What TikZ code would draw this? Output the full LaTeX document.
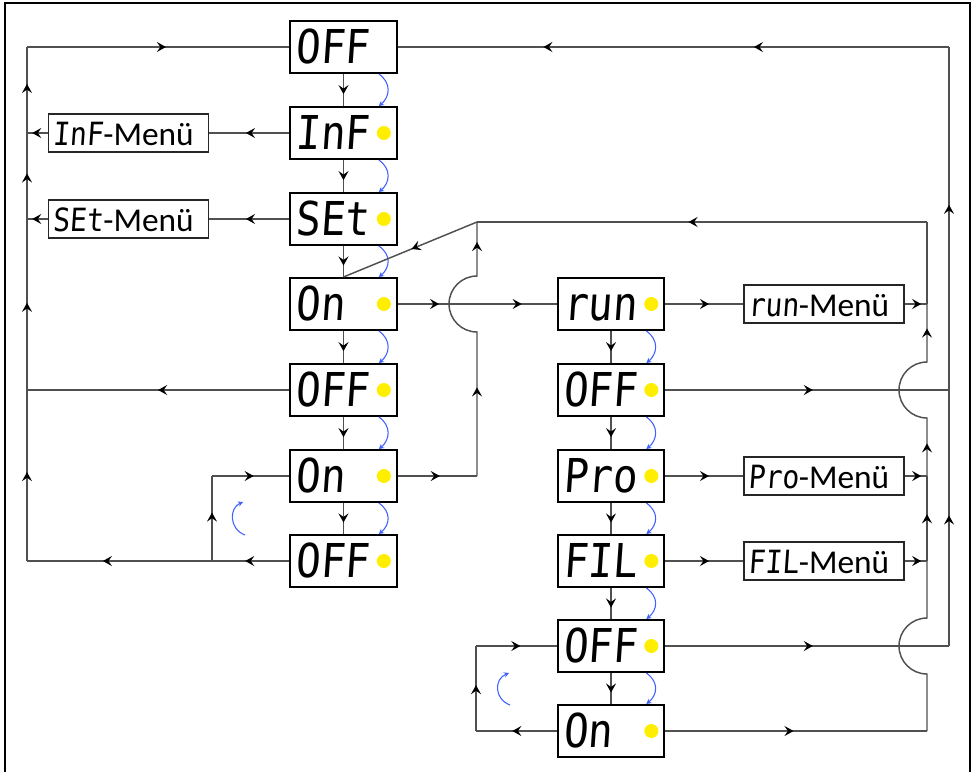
\documentclass[tikz,border=0pt]{standalone}
\usepackage{fontspec}
\setmainfont{Carlito}
\newfontfamily\segfont{DejaVu Sans Mono}[FakeSlant=0.07,FakeStretch=0.88]
\usetikzlibrary{arrows.meta,decorations.markings}

\definecolor{linegray}{RGB}{80,80,80}
\definecolor{pressblue}{RGB}{64,96,255}
\definecolor{ledyellow}{RGB}{255,238,0}

\newcommand{\menuseg}[1]{{\segfont\fontsize{24}{28}\selectfont #1}}

\tikzset{
  display/.style={draw=black, line width=1.5pt, minimum height=39pt, inner xsep=4pt, inner ysep=0pt,
    text width=72pt, align=left, text height=25pt, text depth=0pt, font=\segfont\fontsize{35}{40}\selectfont},
  menu/.style={draw=black!85, line width=1pt, minimum height=28.5pt, inner xsep=3pt, inner ysep=0pt,
    text width=114pt, align=left, text height=19pt, text depth=0pt, font=\fontsize{25}{28}\selectfont},
  led/.style={circle, fill=ledyellow, inner sep=0pt, minimum size=10.5pt},
  link/.style={draw=linegray, line width=1.1pt},
  tip at/.style={postaction={decorate, decoration={markings,
    mark=at position #1 with {\arrow[black]{Stealth[length=6.8pt,width=7.5pt,inset=2.6pt]}}}}},
  press/.style={draw=pressblue, line width=0.8pt, -{Stealth[length=3.8pt,width=4pt]}},
}

\begin{document}
\begin{tikzpicture}[x=0.75pt,y=0.75pt,yscale=-1]
\useasboundingbox (0,0) rectangle (977,772);

%Frame
\draw [line width=1.2pt] (5,772) -- (5,3) -- (970,3) -- (970,772) ;

% Text Node: left column
\node[display] (off1) at (343.5,47) {OFF};
\node[display] (inf) at (343.5,133) {InF};
\node[display] (set) at (343.5,219) {SEt};
\node[display] (on1) at (343.5,304) {On};
\node[display] (off2) at (343.5,390) {OFF};
\node[display] (on2) at (343.5,476) {On};
\node[display] (off3) at (343.5,561) {OFF};
% Text Node: right column
\node[display] (run) at (611,304) {run};
\node[display] (off4) at (611,390) {OFF};
\node[display] (pro) at (611,476) {Pro};
\node[display] (fil) at (611,561) {FIL};
\node[display] (off5) at (611,646) {OFF};
\node[display] (on3) at (611,731) {On};
% Text Node: menus
\node[menu] (infm) at (128.5,133) {\menuseg{InF}-Menü};
\node[menu] (setm) at (128.5,219) {\menuseg{SEt}-Menü};
\node[menu] (runm) at (824,304) {\menuseg{run}-Menü};
\node[menu] (prom) at (824,476) {\menuseg{Pro}-Menü};
\node[menu] (film) at (824,561) {\menuseg{FIL}-Menü};

%Shape: Circle (leds)
\foreach \b in {inf,set,on1,off2,on2,off3,run,off4,pro,fil,off5,on3}
  \node[led] (\b-led) at ([xshift=-10.5pt]\b.east) {};

%Corners
\coordinate (lft-top) at (27,47);
\coordinate (lft-inf) at (27,133);
\coordinate (lft-set) at (27,219);
\coordinate (lft-off2) at (27,390);
\coordinate (lft-off3) at (27,561);
\coordinate (lp-bot) at (212,561);
\coordinate (lp-top) at (212,476);
\coordinate (mid-on2) at (477,476);
\coordinate (jmp-mid) at (477,332);
\coordinate (mid-top) at (477,222);
\coordinate (inr-top) at (927,222);
\coordinate (inr-run) at (927,304);
\coordinate (jmp-hi) at (927,418);
\coordinate (inr-pro) at (927,476);
\coordinate (inr-fil) at (927,561);
\coordinate (jmp-lo) at (927,674);
\coordinate (inr-on3) at (927,731);
\coordinate (rgt-top) at (949,47);
\coordinate (rgt-off4) at (949,390);
\coordinate (rgt-off5) at (949,646);
\coordinate (rl-bot) at (476,731);
\coordinate (rl-top) at (476,646);

%Straight Lines: steps down the columns
\foreach \a/\b in {off1/inf,inf/set,set/on1,on1/off2,off2/on2,on2/off3,run/off4,off4/pro,pro/fil,fil/off5,off5/on3}{
  \draw [link, tip at=0.63] (\a.south) -- (\b.north) ;
  \draw [press] ([xshift=-14.25pt]\a.south east) .. controls +(13,9) and +(11,-9) .. ([xshift=-14.25pt]\b.north east) ;
}

%Straight Lines: left side
\draw [link, tip at=0.54] (inf.west) -- (infm.east) ;
\draw [link, tip at=0.75] (infm.west) -- (lft-inf) ;
\draw [link, tip at=0.54] (set.west) -- (setm.east) ;
\draw [link, tip at=0.75] (setm.west) -- (lft-set) ;
\draw [link, tip at=0.5] (off2.west) -- (lft-off2) ;
\draw [link, tip at=0.57] (off3.west) -- (lp-bot) ;
\draw [link, tip at=0.59] (lp-bot) -- (lft-off3) ;
\draw [link, tip at=0.57] (lp-bot) -- (lp-top) ;
\draw [link, tip at=0.54] (lp-top) -- (on2.west) ;
\draw [link, tip at=0.52] (lft-off3) -- (lft-off2) ;
\draw [link, tip at=0.51] (lft-off2) -- (lft-set) ;
\draw [link, tip at=0.53] (lft-set) -- (lft-inf) ;
\draw [link, tip at=0.57] (lft-inf) -- (lft-top) ;
\draw [link, tip at=0.53] (lft-top) -- (off1.west) ;

%Straight Lines: middle
\draw [link, tip at=0.26, tip at=0.78] (on1.east) -- (run.west) ;
\draw [link, tip at=0.53] (on2.east) -- (mid-on2) ;
\draw [link, tip at=0.31, tip at=0.93] (mid-on2) -- (jmp-mid) arc[start angle=90, end angle=270, radius=28] -- (mid-top) ;
\draw [link, tip at=0.53] (inr-top) -- (mid-top) ;
\draw [link, tip at=0.49] (mid-top) -- (on1.north) ;

%Straight Lines: right side
\draw [link, tip at=0.56] (run.east) -- (runm.west) ;
\draw [link, tip at=0.74] (runm.east) -- (inr-run) ;
\draw [link, tip at=0.56] (pro.east) -- (prom.west) ;
\draw [link, tip at=0.74] (prom.east) -- (inr-pro) ;
\draw [link, tip at=0.56] (fil.east) -- (film.west) ;
\draw [link, tip at=0.74] (film.east) -- (inr-fil) ;
\draw [link, tip at=0.52] (off4.east) -- (rgt-off4) ;
\draw [link, tip at=0.52] (off5.east) -- (rgt-off5) ;
\draw [link, tip at=0.49] (on3.east) -- (inr-on3) ;
\draw [link] (inr-on3) -- (jmp-lo) arc[start angle=90, end angle=270, radius=28] -- (inr-fil) ;
\draw [link, tip at=0.55] (inr-fil) -- (inr-pro) ;
\draw [link, tip at=0.16, tip at=0.88] (inr-pro) -- (jmp-hi) arc[start angle=90, end angle=270, radius=28] -- (inr-run) ;
\draw [link] (inr-run) -- (inr-top) ;
\draw [link, tip at=0.51] (rgt-off5) -- (rgt-off4) ;
\draw [link, tip at=0.54] (rgt-off4) -- (rgt-top) ;
\draw [link, tip at=0.354, tip at=0.736] (rgt-top) -- (off1.east) ;
\draw [link, tip at=0.55] (on3.west) -- (rl-bot) ;
\draw [link, tip at=0.54] (rl-bot) -- (rl-top) ;
\draw [link, tip at=0.55] (rl-top) -- (off5.west) ;

%Curve Lines: repeat loops
\draw [press] (245,535) .. controls (229,529) and (229,508) .. (243,502) ;
\draw [press] (510,705) .. controls (494,699) and (494,679) .. (509,673) ;

\end{tikzpicture}
\end{document}
